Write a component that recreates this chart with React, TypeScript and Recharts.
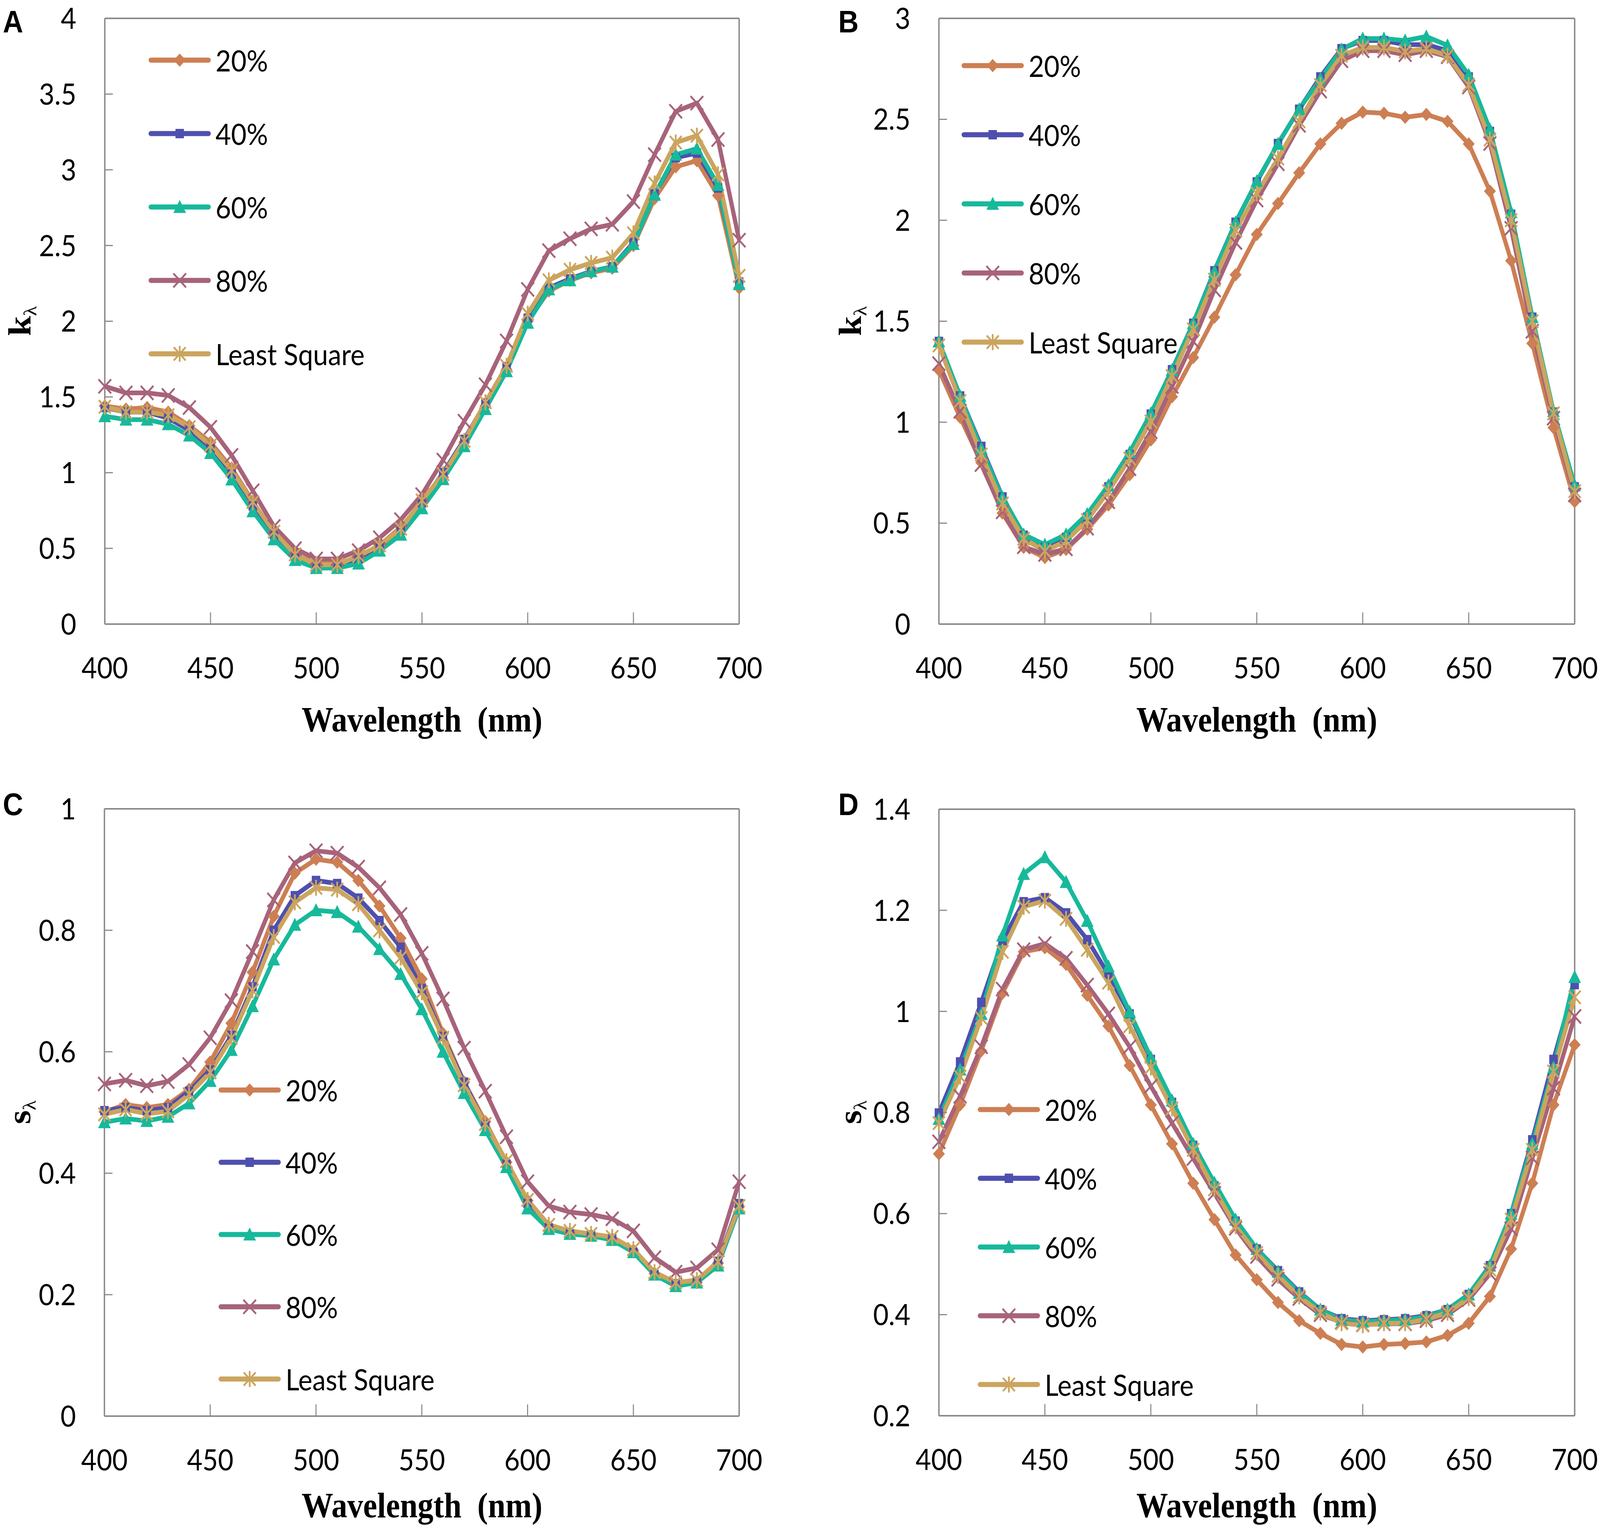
import React from 'react';
import { LineChart, Line, XAxis, YAxis, Legend, ReferenceLine } from 'recharts';

// ---------- data ----------
const wavelengths = [400, 410, 420, 430, 440, 450, 460, 470, 480, 490, 500, 510, 520, 530, 540, 550, 560, 570, 580, 590, 600, 610, 620, 630, 640, 650, 660, 670, 680, 690, 700];
const xTicks = [400, 450, 500, 550, 600, 650, 700];

// Panel A (k)
const kA20 = [1.44, 1.42, 1.43, 1.40, 1.31, 1.20, 1.03, 0.81, 0.60, 0.46, 0.40, 0.40, 0.44, 0.52, 0.64, 0.80, 0.97, 1.20, 1.44, 1.68, 2.00, 2.20, 2.27, 2.32, 2.35, 2.50, 2.81, 3.02, 3.06, 2.83, 2.22];
const kA40 = [1.43, 1.40, 1.40, 1.36, 1.28, 1.16, 0.99, 0.78, 0.59, 0.45, 0.38, 0.38, 0.43, 0.51, 0.62, 0.80, 1.00, 1.22, 1.46, 1.70, 2.02, 2.22, 2.28, 2.33, 2.36, 2.52, 2.84, 3.08, 3.11, 2.88, 2.26];
const kA60 = [1.373, 1.35, 1.35, 1.32, 1.245, 1.13, 0.955, 0.745, 0.56, 0.423, 0.37, 0.37, 0.40, 0.485, 0.59, 0.765, 0.957, 1.175, 1.42, 1.67, 1.99, 2.21, 2.27, 2.33, 2.36, 2.51, 2.835, 3.10, 3.14, 2.90, 2.245];
const kA80 = [1.57, 1.527, 1.527, 1.51, 1.43, 1.30, 1.114, 0.88, 0.645, 0.498, 0.43, 0.43, 0.485, 0.57, 0.69, 0.855, 1.083, 1.34, 1.58, 1.87, 2.21, 2.466, 2.545, 2.61, 2.64, 2.79, 3.10, 3.386, 3.44, 3.20, 2.535];
const kALS = [1.435, 1.40, 1.40, 1.38, 1.30, 1.18, 1.016, 0.806, 0.61, 0.46, 0.392, 0.392, 0.45, 0.52, 0.63, 0.817, 0.99, 1.21, 1.465, 1.705, 2.05, 2.27, 2.34, 2.385, 2.42, 2.58, 2.91, 3.18, 3.225, 2.97, 2.30];

// Panel B (k)
const kB20 = [1.258, 1.024, 0.80, 0.55, 0.38, 0.33, 0.37, 0.47, 0.59, 0.74, 0.912, 1.126, 1.32, 1.52, 1.73, 1.93, 2.083, 2.235, 2.378, 2.48, 2.536, 2.53, 2.51, 2.524, 2.49, 2.378, 2.144, 1.80, 1.39, 0.973, 0.607];
const kB40 = [1.40, 1.13, 0.88, 0.63, 0.44, 0.38, 0.43, 0.53, 0.68, 0.84, 1.04, 1.26, 1.49, 1.75, 1.99, 2.19, 2.38, 2.55, 2.71, 2.85, 2.89, 2.89, 2.87, 2.87, 2.84, 2.71, 2.44, 2.03, 1.52, 1.05, 0.68];
const kB60 = [1.40, 1.13, 0.87, 0.627, 0.444, 0.393, 0.444, 0.545, 0.688, 0.851, 1.044, 1.258, 1.49, 1.746, 1.99, 2.194, 2.378, 2.55, 2.70, 2.846, 2.90, 2.90, 2.89, 2.91, 2.866, 2.72, 2.45, 2.04, 1.52, 1.055, 0.688];
const kB80 = [1.29, 1.054, 0.79, 0.556, 0.383, 0.345, 0.373, 0.475, 0.606, 0.77, 0.953, 1.177, 1.40, 1.655, 1.89, 2.10, 2.28, 2.47, 2.64, 2.79, 2.84, 2.84, 2.82, 2.84, 2.81, 2.66, 2.38, 1.96, 1.45, 1.02, 0.64];
const kBLS = [1.38, 1.105, 0.84, 0.597, 0.423, 0.362, 0.412, 0.515, 0.658, 0.82, 1.004, 1.228, 1.46, 1.706, 1.95, 2.133, 2.306, 2.49, 2.67, 2.815, 2.856, 2.856, 2.836, 2.85, 2.815, 2.67, 2.40, 2.00, 1.50, 1.044, 0.658];

// Panel C (s)
const sC20 = [0.501, 0.513, 0.508, 0.513, 0.538, 0.583, 0.647, 0.731, 0.823, 0.894, 0.917, 0.912, 0.882, 0.84, 0.787, 0.72, 0.63, 0.55, 0.485, 0.418, 0.355, 0.312, 0.302, 0.298, 0.292, 0.273, 0.235, 0.216, 0.22, 0.252, 0.345];
const sC40 = [0.503, 0.508, 0.503, 0.508, 0.535, 0.57, 0.627, 0.707, 0.80, 0.857, 0.882, 0.877, 0.853, 0.816, 0.772, 0.704, 0.625, 0.55, 0.48, 0.415, 0.35, 0.31, 0.30, 0.297, 0.292, 0.27, 0.233, 0.218, 0.222, 0.255, 0.35];
const sC60 = [0.484, 0.49, 0.486, 0.493, 0.515, 0.552, 0.603, 0.675, 0.752, 0.809, 0.833, 0.83, 0.806, 0.769, 0.728, 0.67, 0.60, 0.532, 0.471, 0.41, 0.342, 0.308, 0.30, 0.297, 0.29, 0.27, 0.233, 0.214, 0.22, 0.248, 0.342];
const sC80 = [0.547, 0.553, 0.544, 0.551, 0.579, 0.623, 0.684, 0.765, 0.85, 0.911, 0.931, 0.927, 0.904, 0.87, 0.826, 0.762, 0.687, 0.606, 0.535, 0.46, 0.386, 0.346, 0.336, 0.332, 0.325, 0.305, 0.261, 0.237, 0.244, 0.274, 0.386];
const sCLS = [0.497, 0.505, 0.498, 0.502, 0.53, 0.566, 0.623, 0.701, 0.789, 0.846, 0.87, 0.867, 0.843, 0.80, 0.755, 0.698, 0.623, 0.545, 0.481, 0.42, 0.356, 0.315, 0.305, 0.30, 0.295, 0.275, 0.237, 0.22, 0.224, 0.254, 0.346];

// Panel D (s)
const sD20 = [0.718, 0.815, 0.922, 1.036, 1.118, 1.126, 1.093, 1.032, 0.971, 0.893, 0.815, 0.738, 0.66, 0.588, 0.518, 0.469, 0.424, 0.388, 0.363, 0.341, 0.336, 0.341, 0.343, 0.346, 0.359, 0.383, 0.436, 0.53, 0.66, 0.815, 0.934];
const sD40 = [0.799, 0.90, 1.018, 1.14, 1.217, 1.225, 1.195, 1.142, 1.073, 0.995, 0.905, 0.82, 0.735, 0.655, 0.585, 0.53, 0.487, 0.445, 0.41, 0.392, 0.388, 0.39, 0.392, 0.398, 0.41, 0.44, 0.497, 0.60, 0.746, 0.905, 1.053];
const sD60 = [0.787, 0.885, 0.995, 1.15, 1.272, 1.305, 1.256, 1.179, 1.089, 0.999, 0.909, 0.824, 0.738, 0.661, 0.588, 0.53, 0.485, 0.443, 0.41, 0.39, 0.386, 0.388, 0.39, 0.396, 0.41, 0.44, 0.497, 0.60, 0.738, 0.889, 1.068];
const sD80 = [0.742, 0.832, 0.93, 1.044, 1.122, 1.134, 1.105, 1.052, 0.995, 0.93, 0.852, 0.779, 0.709, 0.64, 0.571, 0.515, 0.47, 0.432, 0.40, 0.385, 0.38, 0.382, 0.382, 0.388, 0.40, 0.43, 0.481, 0.57, 0.71, 0.848, 0.99];
const sDLS = [0.779, 0.871, 0.987, 1.118, 1.207, 1.219, 1.183, 1.122, 1.057, 0.971, 0.889, 0.808, 0.726, 0.648, 0.575, 0.522, 0.477, 0.436, 0.404, 0.383, 0.379, 0.383, 0.383, 0.391, 0.404, 0.433, 0.489, 0.588, 0.726, 0.881, 1.028];

const yTicksA = [0, 0.5, 1, 1.5, 2, 2.5, 3, 3.5, 4];
const yTicksB = [0, 0.5, 1, 1.5, 2, 2.5, 3];
const yTicksC = [0, 0.2, 0.4, 0.6, 0.8, 1];
const yTicksD = [0.2, 0.4, 0.6, 0.8, 1, 1.2, 1.4];

// ---------- styling ----------
const SERIES = [
  { key: 'p20', name: '20%', color: '#CD7F53', shape: 'diamond' },
  { key: 'p40', name: '40%', color: '#4F4FAF', shape: 'square' },
  { key: 'p60', name: '60%', color: '#17B99B', shape: 'triangle' },
  { key: 'p80', name: '80%', color: '#A7637B', shape: 'x' },
  { key: 'ls', name: 'Least Square', color: '#CBA55E', shape: 'star' },
];

const AXIS = '#8a8a8a';
const TICK_FONT = 'Lato, "Open Sans", sans-serif';
// the captured picture is 4096 px wide: squeeze the 4550-wide layout horizontally to fit it
const SX = 4096 / 4550;

function buildRows(a: number[], b: number[], c: number[], d: number[], e: number[]) {
  return wavelengths.map((w, i) => ({ wl: w, p20: a[i], p40: b[i], p60: c[i], p80: d[i], ls: e[i] }));
}

function Marker({ shape, cx, cy, color }: { shape: string; cx: number; cy: number; color: string }) {
  if (cx == null || cy == null) return null;
  switch (shape) {
    case 'diamond': {
      const r = 17;
      return <polygon points={`${cx},${cy - r} ${cx + r},${cy} ${cx},${cy + r} ${cx - r},${cy}`} fill={color} />;
    }
    case 'square': {
      const h = 12;
      return <rect x={cx - h} y={cy - h} width={2 * h} height={2 * h} fill={color} />;
    }
    case 'triangle': {
      const t = 18;
      return <polygon points={`${cx},${cy - t} ${cx + t},${cy + t * 0.85} ${cx - t},${cy + t * 0.85}`} fill={color} />;
    }
    case 'x': {
      const r = 18;
      return (
        <g stroke={color} strokeWidth={5}>
          <line x1={cx - r} y1={cy - r} x2={cx + r} y2={cy + r} />
          <line x1={cx - r} y1={cy + r} x2={cx + r} y2={cy - r} />
        </g>
      );
    }
    default: {
      const r = 17;
      return (
        <g stroke={color} strokeWidth={5}>
          <line x1={cx - r} y1={cy - r} x2={cx + r} y2={cy + r} />
          <line x1={cx - r} y1={cy + r} x2={cx + r} y2={cy - r} />
          <line x1={cx} y1={cy - r * 1.2} x2={cx} y2={cy + r * 1.2} />
        </g>
      );
    }
  }
}

type PanelCfg = {
  rows: any[];
  px: number; py: number; pw: number; ph: number;
  yDomain: [number, number];
  yTicks: number[];
  legend: { x: number; y: number; gap: number };
};

const YW = 300;
const XH = 220;
const MR = 110;
const MT = 80;

function LegendBox({ gap }: { gap: number }) {
  const rowH = 90;
  return (
    <div style={{ position: 'relative', width: 800, height: 0 }}>
      {SERIES.map((s, i) => (
        <div
          key={s.key}
          style={{ position: 'absolute', left: 0, top: i * gap - rowH / 2, height: rowH, display: 'flex', alignItems: 'center' }}
        >
          <svg width={180} height={rowH} style={{ display: 'block' }}>
            <line x1={8} y1={rowH / 2} x2={172} y2={rowH / 2} stroke={s.color} strokeWidth={13} strokeLinecap="round" />
            <Marker shape={s.shape} cx={90} cy={rowH / 2} color={s.color} />
          </svg>
          <span style={{ fontFamily: TICK_FONT, fontSize: 76, color: '#000', marginLeft: 12, whiteSpace: 'nowrap', lineHeight: 1 }}>
            {s.name}
          </span>
        </div>
      ))}
    </div>
  );
}

function fmt(v: number) {
  return String(Math.round(v * 10) / 10);
}

function Panel({ cfg }: { cfg: PanelCfg }) {
  const left = cfg.px - YW;
  const top = cfg.py - MT;
  const width = YW + cfg.pw + MR;
  const height = MT + cfg.ph + XH;
  return (
    <div style={{ position: 'absolute', left, top, width, height }}>
      <LineChart width={width} height={height} data={cfg.rows} margin={{ top: MT, right: MR, left: 0, bottom: 0 }}>
        <XAxis
          dataKey="wl"
          type="number"
          domain={[400, 700]}
          ticks={xTicks}
          height={XH}
          axisLine={{ stroke: AXIS, strokeWidth: 4 }}
          tickLine={{ stroke: AXIS, strokeWidth: 3 }}
          tickSize={-30}
          tickMargin={115}
          tick={{ fill: '#000', fontSize: 76, fontFamily: TICK_FONT }}
          interval={0}
        />
        <YAxis
          type="number"
          domain={cfg.yDomain}
          ticks={cfg.yTicks}
          width={YW}
          axisLine={{ stroke: AXIS, strokeWidth: 4 }}
          tickLine={{ stroke: AXIS, strokeWidth: 3 }}
          tickSize={-23}
          tickMargin={104}
          tick={{ fill: '#000', fontSize: 76, fontFamily: TICK_FONT }}
          tickFormatter={fmt}
          interval={0}
        />
        <ReferenceLine y={cfg.yDomain[1]} stroke={AXIS} strokeWidth={4} />
        <ReferenceLine x={700} stroke={AXIS} strokeWidth={4} />
        {SERIES.map((s) => (
          <Line
            key={s.key}
            dataKey={s.key}
            name={s.name}
            type="linear"
            stroke={s.color}
            strokeWidth={12}
            isAnimationActive={false}
            activeDot={false}
            dot={(p: any) => (
              <g key={`${s.key}-${p.index}`}>
                <Marker shape={s.shape} cx={p.cx} cy={p.cy} color={s.color} />
              </g>
            )}
          />
        ))}
        <Legend
          layout="vertical"
          align="center"
          verticalAlign="middle"
          wrapperStyle={{ left: cfg.legend.x, top: cfg.legend.y + (MT - 37), width: 800, height: 0 }}
          content={() => <LegendBox gap={cfg.legend.gap} />}
        />
      </LineChart>
    </div>
  );
}

const panels: PanelCfg[] = [
  { rows: buildRows(kA20, kA40, kA60, kA80, kALS), px: 298, py: 37, pw: 1804, ph: 1551, yDomain: [0, 4], yTicks: yTicksA, legend: { x: 423, y: 144, gap: 188 } },
  { rows: buildRows(kB20, kB40, kB60, kB80, kBLS), px: 2670, py: 37, pw: 1808, ph: 1551, yDomain: [0, 3], yTicks: yTicksB, legend: { x: 363, y: 158, gap: 177 } },
  { rows: buildRows(sC20, sC40, sC60, sC80, sCLS), px: 297, py: 2061, pw: 1805, ph: 1555, yDomain: [0, 1], yTicks: yTicksC, legend: { x: 623, y: 757, gap: 185 } },
  { rows: buildRows(sD20, sD40, sD60, sD80, sDLS), px: 2670, py: 2062, pw: 1808, ph: 1553, yDomain: [0.2, 1.4], yTicks: yTicksD, legend: { x: 409, y: 806, gap: 176 } },
];

const letters = [
  { t: 'A', x: 8, y: 6 },
  { t: 'B', x: 2384, y: 6 },
  { t: 'C', x: 8, y: 2010 },
  { t: 'D', x: 2384, y: 2010 },
];

const yLabels = [
  { base: 'k', x: 56, y: 812 },
  { base: 'k', x: 2417, y: 812 },
  { base: 's', x: 54, y: 2838 },
  { base: 's', x: 2417, y: 2838 },
];

const xTitles = [
  { x: 1200, y: 1788 },
  { x: 3574, y: 1788 },
  { x: 1200, y: 3800 },
  { x: 3574, y: 3800 },
];

export default function App() {
  return (
    <div style={{ position: 'absolute', left: 0, top: 0, width: 4550, height: 3915, background: '#fff', overflow: 'hidden' }}>
      <div style={{ position: 'absolute', left: 0, top: 10, width: 4550, height: 3905, transform: `scaleX(${SX})`, transformOrigin: '0 0' }}>
        {panels.map((p, i) => (
          <Panel key={i} cfg={p} />
        ))}
        {letters.map((l) => (
          <div key={l.t} style={{ position: 'absolute', left: l.x, top: l.y, fontFamily: '"Liberation Sans", Arial, sans-serif', fontWeight: 'bold', fontSize: 80, lineHeight: 1 }}>
            {l.t}
          </div>
        ))}
        {yLabels.map((l, i) => (
          <div
            key={i}
            style={{
              position: 'absolute', left: l.x, top: l.y, transform: 'translate(-50%, -50%) rotate(-90deg)',
              fontFamily: '"Liberation Serif", "Times New Roman", serif', fontWeight: 'bold', fontSize: 92, lineHeight: 1, whiteSpace: 'nowrap',
            }}
          >
            {l.base}
            <span style={{ fontSize: 52, fontWeight: 'normal', position: 'relative', top: '0.3em' }}>λ</span>
          </div>
        ))}
        {xTitles.map((t, i) => (
          <div
            key={i}
            style={{
              position: 'absolute', left: t.x, top: t.y, transform: 'translateX(-50%)',
              fontFamily: '"Liberation Serif", "Times New Roman", serif', fontWeight: 'bold', fontSize: 90, lineHeight: 1, whiteSpace: 'pre',
            }}
          >
            {'Wavelength  (nm)'}
          </div>
        ))}
      </div>
    </div>
  );
}
